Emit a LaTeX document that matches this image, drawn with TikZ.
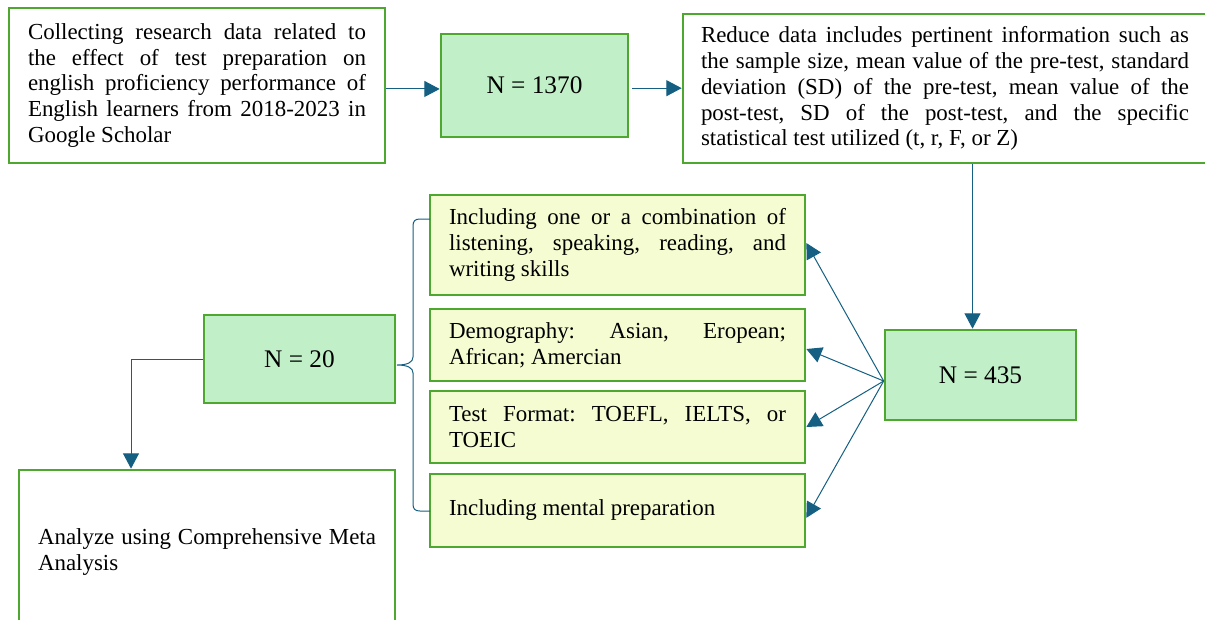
\documentclass[tikz,border=0pt]{standalone}
\usepackage{fontspec}
\setmainfont{Liberation Serif}
\usetikzlibrary{arrows.meta,calc}
\tolerance=10000 \hbadness=10000 \hyphenpenalty=10000 \exhyphenpenalty=10000
\frenchspacing
\definecolor{bordergreen}{HTML}{4EA72E}
\definecolor{fillgreen}{HTML}{C1F0C8}
\definecolor{fillyellow}{HTML}{F6FCD2}
\definecolor{linkblue}{HTML}{156082}
\begin{document}
\begin{tikzpicture}[x=0.75pt,y=-0.75pt,
  basebox/.style={draw=bordergreen, line width=2pt, inner sep=0pt, anchor=center},
  textbox/.style={basebox, fill=white, align=justify, font=\fontsize{17.2}{19.4}\selectfont},
  greenbox/.style={basebox, fill=fillgreen, align=center, font=\fontsize{19}{22}\selectfont},
  yellowbox/.style={basebox, fill=fillyellow, align=justify, minimum width=281.25pt, text width=252.75pt, font=\fontsize{17.2}{19.4}\selectfont},
  conn/.style={draw=linkblue, line width=0.75pt, -{Triangle[length=11.5pt,width=12pt]}},
  braceline/.style={draw=linkblue, line width=0.75pt}
]
\useasboundingbox (0,0) rectangle (1205,619);
\clip (0,0) rectangle (1205,619);
\fill[white] (0,0) rectangle (1205,619);

\node[textbox, minimum width=282pt, minimum height=116.25pt, text width=253.5pt] (A) at (197,85.5)
  {Collecting research data related to\linebreak the effect of test preparation on\linebreak english proficiency performance of\linebreak English learners from 2018-2023 in\linebreak Google Scholar};

\node[greenbox, minimum width=140.25pt, minimum height=77.25pt] (B) at (534.5,85.5) {N = 1370};

\node[textbox, minimum width=393pt, minimum height=111.75pt, text width=366pt] (C) at (945,88.5)
  {Reduce data includes pertinent information such as\linebreak the sample size, mean value of the pre-test, standard\linebreak deviation (SD) of the pre-test, mean value of the\linebreak post-test, SD of the post-test, and the specific\linebreak statistical test utilized (t, r, F, or Z)};

\node[greenbox, minimum width=143.25pt, minimum height=67.5pt] (D) at (980.5,375) {N = 435};

\node[yellowbox, minimum height=75pt] (Y1) at (617.5,245)
  {Including one or a combination of\linebreak listening, speaking, reading, and\linebreak writing skills};
\node[yellowbox, minimum height=54pt] (Y2) at (617.5,345)
  {Demography: Asian, Eropean;\linebreak African; Amercian};
\node[yellowbox, minimum height=54pt] (Y3) at (617.5,427)
  {Test Format: TOEFL, IELTS, or\linebreak TOEIC};
\node[yellowbox, minimum height=54.75pt] (Y4) at (617.5,510.5)
  {Including mental preparation};

\node[greenbox, minimum width=143.25pt, minimum height=66pt] (N20) at (299.5,359) {N = 20};

\node[textbox, minimum width=282pt, minimum height=123pt, text width=253.5pt] (An) at (207,552)
  {Analyze using Comprehensive Meta\linebreak Analysis};

% connectors
\draw[conn] ([yshift=-2.6pt]A.east) -- ([yshift=-2.6pt]A.east -| B.west);
\draw[conn, shorten <=2pt] ([yshift=-2pt]B.east) -- ([yshift=-2pt]B.east -| C.west);
\draw[conn] ([xshift=-6pt]D.north |- C.south) -- ([xshift=-6pt]D.north);

\coordinate (dout) at ([yshift=-4.5pt]D.west);
\draw[conn] (dout) -- ([yshift=1.5pt]Y1.east);
\draw[conn] (dout) -- ([yshift=-3pt]Y2.east);
\draw[conn] (dout) -- (Y3.east);
\draw[conn] (dout) -- ([yshift=-5.5pt]Y4.east);

\draw[conn] (N20.west) -| ([xshift=-57pt]An.north);

% brace
\coordinate (bt) at (430,219);
\coordinate (bb) at (430,511);
\coordinate (btip) at (397,365);
\draw[braceline] (bt) -- (420,219) .. controls (415,219) and (413,221) .. (413,226)
  -- (413,357) .. controls (413,362) and (408,365) .. (btip)
  .. controls (408,365) and (413,368) .. (413,373)
  -- (413,504) .. controls (413,509) and (415,511) .. (420,511) -- (bb);
\end{tikzpicture}
\end{document}
